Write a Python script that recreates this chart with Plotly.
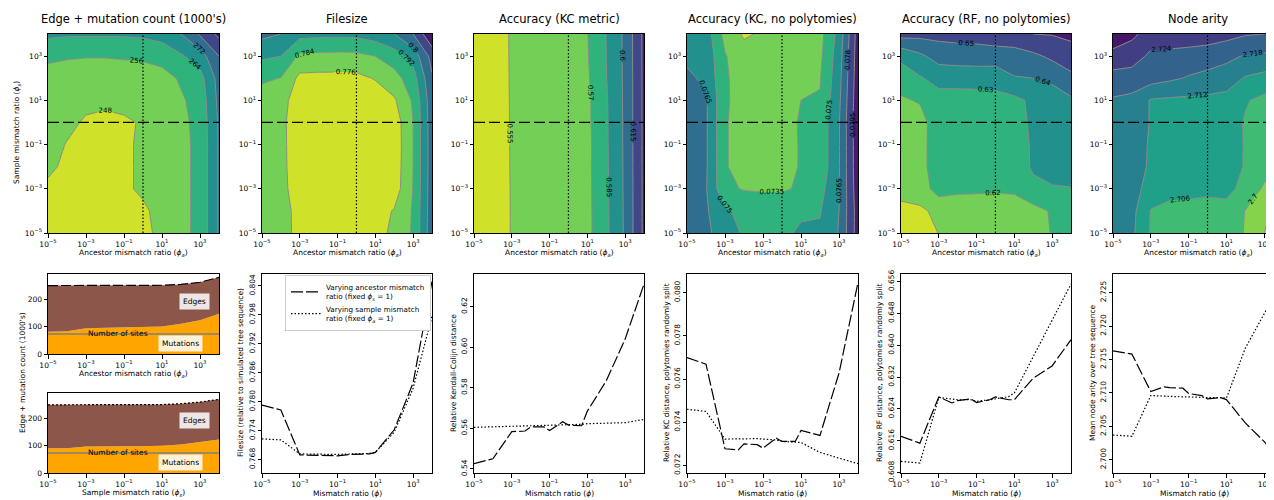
import plotly.graph_objects as go
from plotly.colors import sample_colorscale

# ---------------------------------------------------------------- data
# contour grid (ancestor ratio along x, sample ratio along y)
grid = [1e-5, 1e-4, 1e-3, 1e-2, 1e-1, 1, 10, 100, 1e3, 1e4]
# mismatch ratios used for the 1-D slices
phi = [1e-5, 1e-4, 1e-3, 5e-3, 1e-2, 5e-2, 0.1, 0.5, 1, 5, 10, 100, 1e3, 1e4]

# rows: sample ratio 1e-5 .. 1e4 ; columns: ancestor ratio 1e-5 .. 1e4
edges_mut_z = [
    [246, 246, 246, 246, 246, 247, 249, 254, 258, 273],
    [247, 246, 246, 246, 246.5, 247.5, 249, 254, 258, 273],
    [247.5, 246.5, 246.5, 246.5, 247.5, 248.5, 249.5, 254, 258, 273],
    [248.5, 247.5, 247, 247, 247.5, 248.5, 250, 254, 258, 273],
    [249.5, 247.8, 247, 247, 247.5, 248.5, 250, 254, 258, 273],
    [250, 249, 247.5, 247, 247.5, 248.3, 250, 254, 258.5, 273],
    [251, 250, 249, 248.8, 249, 249.5, 251, 255, 259, 274],
    [252, 251, 250.5, 250.5, 251, 251.5, 253, 257, 261, 275],
    [258, 257, 256.5, 256.5, 257, 257.5, 259, 263, 268, 280],
    [265.5, 265, 265, 265, 265, 265.5, 267, 272, 281, 290],
]
filesize_z = [
    [0.7815, 0.7810, 0.7722, 0.7720, 0.7718, 0.7722, 0.7735, 0.7775, 0.7850, 0.8050],
    [0.7812, 0.7808, 0.7720, 0.7718, 0.7716, 0.7720, 0.7730, 0.7765, 0.7848, 0.8048],
    [0.7800, 0.7795, 0.7700, 0.7698, 0.7697, 0.7700, 0.7705, 0.7720, 0.7842, 0.8045],
    [0.7798, 0.7792, 0.7692, 0.7690, 0.7689, 0.7692, 0.7696, 0.7715, 0.7840, 0.8044],
    [0.7796, 0.7790, 0.7691, 0.7689, 0.7688, 0.7691, 0.7695, 0.7712, 0.7839, 0.8044],
    [0.7795, 0.7788, 0.7690, 0.7689, 0.7688, 0.7692, 0.7695, 0.7715, 0.7840, 0.8045],
    [0.7810, 0.7800, 0.7700, 0.7698, 0.7697, 0.7700, 0.7715, 0.7750, 0.7850, 0.8050],
    [0.7850, 0.7838, 0.7740, 0.7738, 0.7737, 0.7740, 0.7765, 0.7810, 0.7885, 0.8070],
    [0.7935, 0.7920, 0.7825, 0.7820, 0.7818, 0.7820, 0.7840, 0.7880, 0.7950, 0.8110],
    [0.8020, 0.8000, 0.7945, 0.7940, 0.7938, 0.7940, 0.7960, 0.8000, 0.8080, 0.8230],
]
kc_z = [
    [0.5420, 0.5460, 0.5558, 0.5595, 0.5600, 0.5612, 0.5660, 0.5820, 0.6020, 0.6330],
    [0.5420, 0.5460, 0.5558, 0.5596, 0.5601, 0.5613, 0.5661, 0.5822, 0.6021, 0.6330],
    [0.5421, 0.5460, 0.5559, 0.5597, 0.5602, 0.5614, 0.5663, 0.5825, 0.6022, 0.6330],
    [0.5422, 0.5461, 0.5560, 0.5598, 0.5603, 0.5615, 0.5665, 0.5828, 0.6023, 0.6331],
    [0.5423, 0.5462, 0.5561, 0.5600, 0.5605, 0.5616, 0.5662, 0.5830, 0.6024, 0.6331],
    [0.5424, 0.5463, 0.5562, 0.5601, 0.5606, 0.5617, 0.5668, 0.5832, 0.6025, 0.6332],
    [0.5425, 0.5464, 0.5563, 0.5602, 0.5607, 0.5618, 0.5670, 0.5835, 0.6026, 0.6332],
    [0.5426, 0.5465, 0.5564, 0.5603, 0.5608, 0.5619, 0.5680, 0.5845, 0.6027, 0.6333],
    [0.5427, 0.5466, 0.5565, 0.5604, 0.5609, 0.5621, 0.5690, 0.5850, 0.6028, 0.6334],
    [0.5428, 0.5467, 0.5566, 0.5605, 0.5610, 0.5623, 0.5695, 0.5852, 0.6030, 0.6335],
]
kcnp_z = [
    [0.0772, 0.0768, 0.0758, 0.0748, 0.0747, 0.0747, 0.0752, 0.0752, 0.0766, 0.0802],
    [0.0771, 0.0767, 0.0752, 0.0746, 0.0746, 0.0746, 0.0748, 0.0749, 0.0765, 0.0802],
    [0.0770, 0.0766, 0.0738, 0.0734, 0.0733, 0.0733, 0.0737, 0.0745, 0.0764, 0.0804],
    [0.0770, 0.0767, 0.0736, 0.0730, 0.0729, 0.0730, 0.0736, 0.0740, 0.0764, 0.0805],
    [0.0770, 0.0767, 0.0736, 0.0730, 0.0729, 0.0730, 0.0736, 0.0740, 0.0764, 0.0805],
    [0.0770, 0.0767, 0.0736, 0.0730, 0.0729, 0.0731, 0.0736, 0.0740, 0.0764, 0.0806],
    [0.0769, 0.0767, 0.0737, 0.0729, 0.0728, 0.0730, 0.0735, 0.0736, 0.0762, 0.0805],
    [0.0768, 0.0762, 0.0737, 0.0728, 0.0727, 0.0728, 0.0732, 0.0734, 0.0760, 0.0804],
    [0.0762, 0.0760, 0.0736, 0.0726, 0.0725, 0.0726, 0.0730, 0.0732, 0.0758, 0.0803],
    [0.0760, 0.0758, 0.0730, 0.0718, 0.0722, 0.0723, 0.0727, 0.0730, 0.0755, 0.0802],
]
rf_z = [
    [0.6060, 0.6080, 0.6101, 0.6130, 0.6130, 0.6109, 0.6120, 0.6160, 0.6205, 0.6240],
    [0.6060, 0.6085, 0.6120, 0.6125, 0.6125, 0.6105, 0.6125, 0.6165, 0.6210, 0.6245],
    [0.6150, 0.6145, 0.6245, 0.6225, 0.6222, 0.6222, 0.6225, 0.6285, 0.6290, 0.6295],
    [0.6165, 0.6160, 0.6265, 0.6262, 0.6258, 0.6265, 0.6265, 0.6308, 0.6345, 0.6360],
    [0.6168, 0.6158, 0.6268, 0.6258, 0.6260, 0.6265, 0.6263, 0.6310, 0.6345, 0.6370],
    [0.6171, 0.6154, 0.6270, 0.6255, 0.6262, 0.6270, 0.6263, 0.6317, 0.6350, 0.6375],
    [0.6185, 0.6210, 0.6260, 0.6262, 0.6265, 0.6268, 0.6275, 0.6320, 0.6350, 0.6385],
    [0.6255, 0.6290, 0.6335, 0.6335, 0.6335, 0.6340, 0.6395, 0.6400, 0.6420, 0.6470],
    [0.6320, 0.6380, 0.6440, 0.6450, 0.6455, 0.6450, 0.6445, 0.6480, 0.6520, 0.6570],
    [0.6540, 0.6530, 0.6530, 0.6535, 0.6537, 0.6560, 0.6585, 0.6600, 0.6605, 0.6615],
]
arity_z = [
    [2.7140, 2.7132, 2.7055, 2.7040, 2.7040, 2.7037, 2.7040, 2.6995, 2.6940, 2.6900],
    [2.7145, 2.7138, 2.7057, 2.7045, 2.7042, 2.7035, 2.7045, 2.6998, 2.6950, 2.6920],
    [2.7150, 2.7145, 2.7095, 2.7077, 2.7075, 2.7075, 2.7073, 2.7045, 2.6990, 2.6980],
    [2.7155, 2.7152, 2.7110, 2.7100, 2.7098, 2.7097, 2.7092, 2.7055, 2.7025, 2.7000],
    [2.7160, 2.7155, 2.7112, 2.7103, 2.7100, 2.7095, 2.7090, 2.7056, 2.7023, 2.7000],
    [2.7163, 2.7158, 2.7116, 2.7105, 2.7099, 2.7090, 2.7090, 2.7055, 2.7022, 2.7000],
    [2.7175, 2.7168, 2.7115, 2.7110, 2.7108, 2.7105, 2.7100, 2.7065, 2.7045, 2.7030],
    [2.7210, 2.7205, 2.7205, 2.7190, 2.7175, 2.7165, 2.7150, 2.7115, 2.7100, 2.7090],
    [2.7290, 2.7275, 2.7225, 2.7222, 2.7215, 2.7205, 2.7195, 2.7175, 2.7170, 2.7160],
    [2.7320, 2.7310, 2.7280, 2.7278, 2.7277, 2.7275, 2.7260, 2.7245, 2.7240, 2.7230],
]

# stacked counts (1000's)
mutations_anc = [81, 83, 94, 95, 95, 95, 95, 96, 96, 98, 100, 110, 123, 146]
edges_anc = [168, 166, 155, 154, 154, 154, 154, 153, 153, 151, 150, 143, 138, 133]
mutations_samp = [90, 90, 96, 97, 97, 97, 97, 97, 97, 98, 99, 104, 112, 122]
edges_samp = [158, 158, 152, 151, 151, 151, 151, 151, 151, 150, 150, 148, 146, 146]
num_sites = 73

# 1-D slices: *_anc varies ancestor ratio (phi_s = 1), *_samp varies sample ratio (phi_a = 1)
filesize_anc = [0.7793, 0.7783, 0.7690, 0.7689, 0.7689, 0.7689, 0.7688, 0.7691, 0.7691, 0.7692, 0.7695, 0.7742, 0.7839, 0.8050]
filesize_samp = [0.7723, 0.7721, 0.7692, 0.7691, 0.7691, 0.7691, 0.7691, 0.7692, 0.7692, 0.7693, 0.7695, 0.7737, 0.7828, 0.7977]
kc_anc = [0.5426, 0.5450, 0.5584, 0.5587, 0.5607, 0.5607, 0.5589, 0.5633, 0.5616, 0.5613, 0.5685, 0.5834, 0.6040, 0.6311]
kc_samp = [0.5605, 0.5607, 0.5611, 0.5613, 0.5614, 0.5615, 0.5615, 0.5617, 0.5618, 0.5620, 0.5623, 0.5625, 0.5628, 0.5644]
kcnp_anc = [0.07699, 0.07669, 0.07277, 0.07272, 0.07300, 0.07296, 0.07280, 0.07326, 0.07311, 0.07311, 0.07362, 0.07339, 0.07627, 0.08046]
kcnp_samp = [0.07460, 0.07450, 0.07322, 0.07324, 0.07325, 0.07324, 0.07322, 0.07318, 0.07311, 0.07308, 0.07306, 0.07260, 0.07234, 0.07208]
rf_anc = [0.6171, 0.6154, 0.6270, 0.6255, 0.6261, 0.6265, 0.6256, 0.6263, 0.6270, 0.6263, 0.6263, 0.6317, 0.6348, 0.6414]
rf_samp = [0.6108, 0.6104, 0.6269, 0.6265, 0.6263, 0.6263, 0.6259, 0.6263, 0.6265, 0.6271, 0.6280, 0.6372, 0.6464, 0.6554]
arity_anc = [2.7163, 2.7158, 2.7102, 2.7109, 2.7108, 2.7107, 2.7099, 2.7096, 2.7091, 2.7093, 2.7090, 2.7055, 2.7027, 2.6995]
arity_samp = [2.7037, 2.7035, 2.7096, 2.7095, 2.7094, 2.7094, 2.7094, 2.7093, 2.7093, 2.7093, 2.7092, 2.7167, 2.7219, 2.7270]

titles = ["Edge + mutation count (1000's)", "Filesize", "Accuracy (KC metric)",
          "Accuracy (KC, no polytomies)", "Accuracy (RF, no polytomies)", "Node arity"]

# ---------------------------------------------------------------- style / layout
W, H = 1274, 500
OFF = 8          # the page body adds an 8px margin around the figure
FONT = "DejaVu Sans"
PHI = "<i>ϕ</i>"

def px(x):
    return (x - OFF) / W

def py(y):
    return 1 - (y - OFF) / H

# screen-pixel positions of the panels
cols = [(48, 219), (262, 432), (474, 644), (687, 858), (901, 1071), (1113, 1282)]
XMAX = [4, 4, 4, 4, 4, 3.94]
TOP = (34, 233)
BOT = (274, 473)
STACK_A = (274, 354)
STACK_B = (393, 473)

def exp_ticks(exps):
    vals = [10.0 ** e for e in exps]
    text = ["10<sup>%s%d</sup>" % ("−" if e < 0 else "", abs(e)) for e in exps]
    return vals, text

tv, tt = exp_ticks([-5, -3, -1, 1, 3])

common = dict(showline=True, linecolor="black", linewidth=1, ticks="outside", ticklen=3.5,
              tickwidth=0.8, tickcolor="black", showgrid=False, zeroline=False, automargin=False,
              tickfont=dict(family=FONT, size=7.5, color="black"), fixedrange=True, mirror=True)

layout = dict(width=W, height=H, margin=dict(l=0, r=0, t=0, b=0, pad=0, autoexpand=False),
              paper_bgcolor="white", plot_bgcolor="white",
              font=dict(family=FONT, size=8, color="black"))
annotations = []
fig = go.Figure()

def ax_names(k):
    return ("xaxis" if k == 1 else "xaxis%d" % k, "yaxis" if k == 1 else "yaxis%d" % k,
            "x" if k == 1 else "x%d" % k, "y" if k == 1 else "y%d" % k)

def note(text, x, y, size=7.5, angle=0, **kw):
    annotations.append(dict(text=text, x=px(x), y=py(y), xref="paper", yref="paper",
                            showarrow=False, textangle=angle, xanchor="center", yanchor="middle",
                            font=dict(family=FONT, size=size, color="black"), **kw))

def band_scale(n):
    cols_ = sample_colorscale("Viridis", [1 - (i + 0.5) / n for i in range(n)])
    return [[i / (n - 1), c] for i, c in enumerate(cols_)]

contour_cfg = [
    (edges_mut_z, 248, 288, 8, 7, ".3~g"),
    (filesize_z, 0.776, 0.816, 0.008, 7, ".3~g"),
    (kc_z, 0.555, 0.63, 0.015, 7, ".3~g"),
    (kcnp_z, 0.072, 0.0795, 0.0015, 7, ".3~g"),
    (rf_z, 0.61, 0.66, 0.01, 7, ".3~g"),
    (arity_z, 2.694, 2.730, 0.006, 8, ".4~g"),
]

# ---- top row: contour maps
for i, (z, s, e, d, nb, fmt) in enumerate(contour_cfg):
    k = i + 1
    xa, ya, xr, yr = ax_names(k)
    x0, x1 = cols[i]
    layout[xa] = dict(common, type="log", range=[-5, XMAX[i]], domain=[px(x0), px(x1)], anchor=yr,
                      tickvals=tv, ticktext=tt)
    layout[ya] = dict(common, type="log", range=[-5, 4], domain=[py(TOP[1]), py(TOP[0])], anchor=xr,
                      tickvals=tv, ticktext=tt)
    fig.add_trace(go.Contour(
        x=grid, y=grid, z=z, xaxis=xr, yaxis=yr, autocontour=False,
        contours=dict(start=s, end=e, size=d, coloring="fill", showlabels=True,
                      labelfont=dict(family=FONT, size=7, color="black"), labelformat=fmt),
        colorscale=band_scale(nb), showscale=False,
        line=dict(color="#8c8c8c", width=1, smoothing=0), hoverinfo="skip", showlegend=False))
    fig.add_trace(go.Scatter(x=[grid[0], grid[-1]], y=[1, 1], xaxis=xr, yaxis=yr, mode="lines",
                             line=dict(color="black", width=1.2, dash="11px,4px"),
                             hoverinfo="skip", showlegend=False))
    fig.add_trace(go.Scatter(x=[1, 1], y=[grid[0], grid[-1]], xaxis=xr, yaxis=yr, mode="lines",
                             line=dict(color="black", width=1.2, dash="1.5px,2px"),
                             hoverinfo="skip", showlegend=False))
    cx = (x0 + x1) / 2 if i < 5 else 1198
    note(titles[i], cx, 19, size=11.5)
    note("Ancestor mismatch ratio (%s<sub><i>a</i></sub>)" % PHI, cx, 253)

note("Sample mismatch ratio (%s<sub><i>s</i></sub>)" % PHI, 17, 133, angle=-90)

# ---- bottom-left: stacked areas
stack_defs = [(7, STACK_A, mutations_anc, edges_anc, "10px,3px",
               "Ancestor mismatch ratio (%s<sub><i>a</i></sub>)" % PHI),
              (8, STACK_B, mutations_samp, edges_samp, "2px,2px",
               "Sample mismatch ratio (%s<sub><i>s</i></sub>)" % PHI)]
for k, (yt, yb), muts, edges, dash, xt in stack_defs:
    xa, ya, xr, yr = ax_names(k)
    layout[xa] = dict(common, type="log", range=[-5, 4], domain=[px(48), px(219)], anchor=yr,
                      tickvals=tv, ticktext=tt)
    layout[ya] = dict(common, range=[0, 291], domain=[py(yb), py(yt)], anchor=xr,
                      tickvals=[0, 100, 200])
    grp = "stack%d" % k
    fig.add_trace(go.Scatter(x=phi, y=muts, xaxis=xr, yaxis=yr, stackgroup=grp, mode="lines",
                             line=dict(width=0, color="#ffa500"), fillcolor="#ffa500",
                             hoverinfo="skip", showlegend=False))
    fig.add_trace(go.Scatter(x=phi, y=edges, xaxis=xr, yaxis=yr, stackgroup=grp, mode="lines",
                             line=dict(width=1.2, color="black", dash=dash), fillcolor="#8c564b",
                             hoverinfo="skip", showlegend=False))
    fig.add_trace(go.Scatter(x=[phi[0], phi[-1]], y=[num_sites, num_sites], xaxis=xr, yaxis=yr,
                             mode="lines", line=dict(color="#7f7f7f", width=1.5),
                             hoverinfo="skip", showlegend=False))
    note("Number of sites", 118, yt + 59.5)
    note("Edges", 194, yt + 27, size=7.5, bgcolor="rgba(255,255,255,0.85)", borderpad=3)
    note("Mutations", 180, yt + 69, size=7.5, bgcolor="rgba(255,255,255,0.85)", borderpad=3)
    note(xt, 133.5, yb + 20)

note("Edge + mutation count (1000's)", 22, 373, angle=-90)

# ---- bottom row: 1-D slices
line_defs = [
    (filesize_anc, filesize_samp, [0.76524, 0.80648], 0.768, 0.006, ".3f",
     "Filesize (relative to simulated tree sequence)"),
    (kc_anc, kc_samp, [0.5380, 0.6361], 0.54, 0.02, ".2f", "Relative Kendall-Colijn distance"),
    (kcnp_anc, kcnp_samp, [0.07165, 0.08086], 0.072, 0.002, ".3f",
     "Relative KC distance, polytomies randomly split"),
    (rf_anc, rf_samp, [0.6079, 0.6579], 0.616, 0.008, ".3f",
     "Relative RF distance, polytomies randomly split"),
    (arity_anc, arity_samp, [2.69801, 2.72779], 2.700, 0.005, ".3f",
     "Mean node arity over tree sequence"),
]
ytitle_x = [240, 453, 666, 879, 1092]
for j, (ya_, ys_, yrng, t0, dt, fmt, ytitle) in enumerate(line_defs):
    k = 9 + j
    i = j + 1
    xa, ya, xr, yr = ax_names(k)
    x0, x1 = cols[i]
    layout[xa] = dict(common, type="log", range=[-5, XMAX[i]], domain=[px(x0), px(x1)], anchor=yr,
                      tickvals=tv, ticktext=tt)
    layout[ya] = dict(common, range=yrng, domain=[py(BOT[1]), py(BOT[0])], anchor=xr,
                      tick0=t0, dtick=dt, tickformat=fmt, tickangle=-90)
    first = (j == 0)
    fig.add_trace(go.Scatter(
        x=phi, y=ya_, xaxis=xr, yaxis=yr, mode="lines",
        line=dict(color="black", width=1.2, dash="12px,3px"),
        name="Varying ancestor mismatch<br>ratio (fixed %s<sub><i>s</i></sub> = 1)" % PHI,
        showlegend=first, hoverinfo="skip"))
    fig.add_trace(go.Scatter(
        x=phi, y=ys_, xaxis=xr, yaxis=yr, mode="lines",
        line=dict(color="black", width=1.2, dash="1.5px,2px"),
        name="Varying sample mismatch<br>ratio (fixed %s<sub><i>a</i></sub> = 1)" % PHI,
        showlegend=first, hoverinfo="skip"))
    note("Mismatch ratio (%s)" % PHI, (x0 + x1) / 2 if i < 5 else 1194, 493)
    note(ytitle, ytitle_x[j], 373, angle=-90)

layout["legend"] = dict(x=px(431), y=py(275), xanchor="right", yanchor="top",
                        bgcolor="white", bordercolor="#cccccc", borderwidth=1,
                        font=dict(family=FONT, size=7.2, color="black"),
                        itemwidth=30, tracegroupgap=0, traceorder="normal")
layout["showlegend"] = True
layout["annotations"] = annotations
fig.update_layout(**layout)
fig.write_html("out.html")
